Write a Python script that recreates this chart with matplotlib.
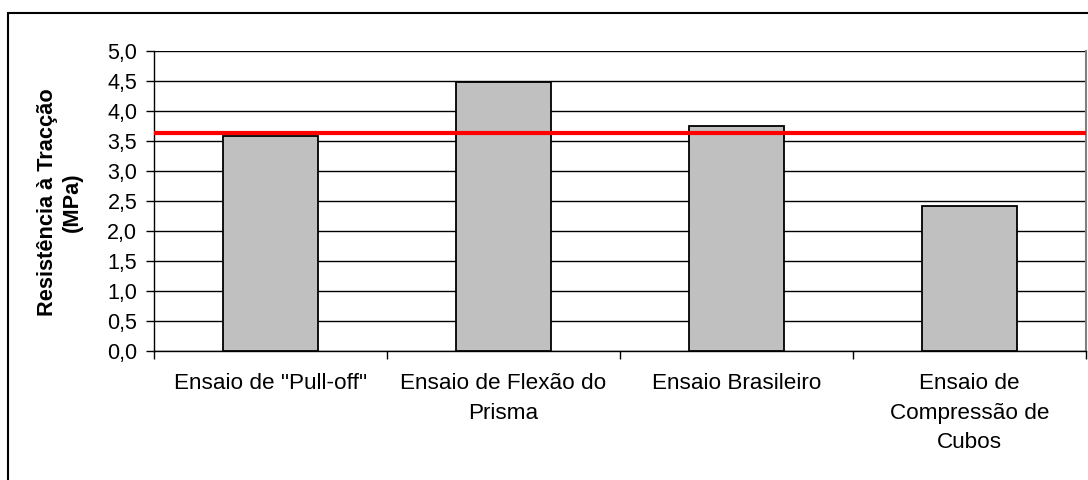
import matplotlib
matplotlib.use("Agg")
import matplotlib.pyplot as plt
from matplotlib.patches import Rectangle
from matplotlib.ticker import FuncFormatter, MultipleLocator

plt.rcParams['font.family'] = ['Liberation Sans', 'DejaVu Sans']

categories = ['Ensaio de "Pull-off"', 'Ensaio de Flexão do\nPrisma',
              'Ensaio Brasileiro', 'Ensaio de\nCompressão de\nCubos']
values = [3.58, 4.48, 3.75, 2.42]
reference_value = 3.63
y_label = 'Resistência à Tracção\n(MPa)'

fig = plt.figure(figsize=(10.88, 4.8), dpi=100)
fig.patch.set_facecolor('white')

# outer frame of the chart
fig.patches.append(Rectangle((8 / 1088, -0.1), 1.2, 1 - 13 / 480 + 0.1,
                             transform=fig.transFigure, fill=False,
                             edgecolor='black', linewidth=1.5, zorder=0))

ax = fig.add_axes([154 / 1088, 1 - 351 / 480, (1086 - 154) / 1088, (351 - 50.5) / 480])
x = range(len(categories))
ax.bar(x, values, width=0.41, color='#C0C0C0', edgecolor='black', linewidth=1.3, zorder=3)
ax.axhline(reference_value, color='#FF0000', linewidth=3, zorder=4)

ax.set_xlim(-0.5, len(categories) - 0.5)
ax.set_ylim(0, 5)
ax.yaxis.set_major_locator(MultipleLocator(0.5))
ax.yaxis.set_major_formatter(FuncFormatter(lambda v, p: f'{v:.1f}'.replace('.', ',')))
ax.grid(axis='y', color='black', linewidth=1, zorder=1)
ax.set_axisbelow(True)

# category ticks at boundaries, labels centred under bars
ax.set_xticks([i - 0.5 for i in range(len(categories) + 1)])
ax.set_xticklabels([])
ax.set_xticks(list(x), minor=True)
ax.set_xticklabels(categories, minor=True, fontsize=16.2, linespacing=1.53)
ax.tick_params(axis='x', which='minor', length=0, pad=16)
ax.tick_params(axis='x', which='major', length=6, width=1, direction='out', color='black')
ax.tick_params(axis='y', length=6, width=1, direction='out', labelsize=15.5, pad=6)

ax.spines['top'].set_visible(False)
ax.spines['right'].set_color('#808080')
ax.spines['right'].set_linewidth(1.5)
ax.spines['left'].set_linewidth(1)
ax.spines['bottom'].set_linewidth(1)

fig.text(60 / 1088, 1 - 202 / 480, y_label, rotation=90, ha='center', va='center',
         fontsize=15.7, fontweight='bold', linespacing=1.2)

fig.savefig('out.png', dpi=100, facecolor='white')
